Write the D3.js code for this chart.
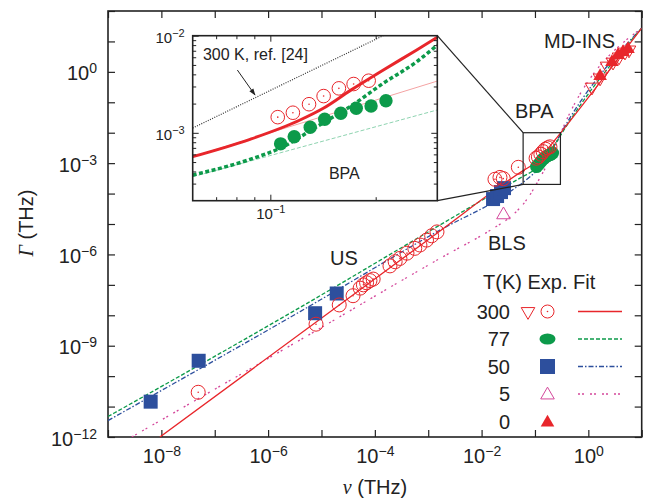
<!DOCTYPE html>
<html>
<head>
<meta charset="utf-8">
<script src="https://cdn.jsdelivr.net/npm/d3@7"></script>
<style>
  body { margin: 0; background: #fff; }
  svg { display: block; font-family: "Liberation Sans", Arial, sans-serif; }
</style>
</head>
<body>
<div id="chart"></div>
<script>
// ---- data: [nu (THz), Gamma (THz)] ----
const exp300 = [
  [4.9e-8, 2.95e-11], [7.9e-6, 5.1e-9], [2.15e-5, 2.19e-8], [3.9e-5, 4.4e-8],
  [5.3e-5, 7.8e-8], [6.1e-5, 1.0e-7], [7.0e-5, 1.17e-7], [8.1e-5, 1.38e-7], [9.3e-5, 1.55e-7],
  [1.92e-4, 4.2e-7], [2.4e-4, 5.75e-7], [2.95e-4, 7.4e-7], [4.0e-4, 1.1e-6], [5.6e-4, 1.58e-6],
  [7.0e-4, 2.04e-6], [9.3e-4, 2.95e-6], [1.16e-3, 4.1e-6], [1.46e-3, 5.5e-6],
  [0.0178, 2.95e-4], [0.0221, 3.4e-4], [0.0255, 3.1e-4], [0.0488, 7.3e-4]
];
const bpa300 = [[0.105, 1.45e-3], [0.116, 1.61e-3], [0.129, 1.97e-3], [0.142, 2.39e-3],
  [0.157, 2.87e-3], [0.173, 3.18e-3], [0.191, 3.44e-3]];
const bpa77 = [[0.107, 7.7e-4], [0.117, 9.1e-4], [0.130, 1.14e-3], [0.143, 1.38e-3],
  [0.159, 1.59e-3], [0.176, 1.79e-3], [0.194, 1.89e-3], [0.214, 2.14e-3]];
const exp50 = [[6.3e-9, 1.45e-11], [5.0e-8, 3.2e-10], [7.6e-6, 1.17e-8], [1.93e-5, 5.2e-8],
  [0.0164, 6.6e-5], [0.0195, 8.3e-5], [0.0231, 1.12e-4], [0.0263, 1.51e-4]];
const exp5 = [[0.0257, 2.0e-5]];
const mdins300 = [[1.17, 0.316], [1.66, 0.63], [2.24, 1.55], [2.90, 2.09], [3.76, 3.09], [4.86, 4.47], [5.78, 5.25]];
const mdins0 = [[1.66, 0.72], [2.77, 2.09], [3.6, 3.55], [4.47, 4.47], [5.53, 5.62]];

// fit curves
const fit300 = [[9.4e-9, 1e-12], [1.46e-3, 5.0e-6], [0.06, 5.68e-4], [0.0875, 8.57e-4], [0.1216, 1.355e-3],
  [0.1417, 1.79e-3], [0.169, 2.72e-3], [0.2104, 4.44e-3], [0.262, 7.13e-3], [0.30, 9.63e-3], [10, 27.5]];
const fit77 = [[1e-9, 4.7e-12], [3.98e-6, 1.82e-8], [1.66e-3, 9.3e-6], [0.06, 3.67e-4], [0.0875, 5.33e-4],
  [0.1089, 7.19e-4], [0.1357, 1.156e-3], [0.169, 1.86e-3], [0.2104, 3.24e-3], [0.262, 5.4e-3], [0.30, 8.0e-3], [10, 27.5]];
const fit50 = [[1e-9, 3.47e-12], [3.98e-6, 1.32e-8], [1.66e-3, 6.3e-6], [0.034, 1.15e-4], [0.0807, 3.58e-4],
  [0.166, 1.27e-3], [0.294, 8.4e-3], [10, 27.5]];
const fit5 = [[2.78e-9, 1e-12], [3.98e-6, 1.55e-9], [1.66e-3, 7.4e-7], [0.01656, 7.2e-6], [0.034, 1.66e-5],
  [0.07, 6.3e-5], [0.124, 3.3e-4], [0.221, 2.4e-3], [0.294, 8.4e-3], [10, 27.5]];
const lin300 = [[0.06, 5.68e-4], [0.30, 3.41e-3]];
const lin77 = [[0.06, 3.53e-4], [0.30, 1.72e-3]];
const ref24 = [[0.06, 1.12e-3], [0.21, 1.0e-2]];

const xTickExp = d3.range(-9, 2);
const xLabelExp = [-8, -6, -4, -2, 0];
const yTickExp = d3.range(-12, 3);
const yLabelExp = [-12, -9, -6, -3, 0];
const insetXTicks = [0.07, 0.08, 0.09, 0.1, 0.2];
const insetYTicks = [3e-4, 4e-4, 5e-4, 6e-4, 7e-4, 8e-4, 9e-4, 1e-3, 2e-3, 3e-3, 4e-3, 5e-3, 6e-3, 7e-3, 8e-3, 9e-3];
const legendT = ["300", "77", "50", "5", "0"];

const red = '#e8262b', green = '#0c9a4a', blue = '#2d4f9d', pink = '#d4479b', ink = '#222';

const W = 648, H = 499;
const m = {l: 108, r: 641.7, t: 11, b: 437};

const svg = d3.select('#chart').append('svg').attr('width', W).attr('height', H);

const x = d3.scaleLog().domain([1e-9, 1e1]).range([m.l, m.r]);
const y = d3.scaleLog().domain([1e-12, 1e2]).range([m.b, m.t]);

const sup = (sel, e, supSize, raise) => {
  sel.text(null);
  sel.append('tspan').text('10');
  sel.append('tspan').attr('dy', -raise).attr('font-size', supSize).text(e < 0 ? '\u2212' + (-e) : e);
};

svg.append('defs').append('clipPath').attr('id', 'clipMain')
  .append('rect').attr('x', m.l).attr('y', m.t).attr('width', m.r - m.l).attr('height', m.b - m.t);

// axes
const pow = e => Math.pow(10, e);
const gx = svg.append('g').attr('transform', `translate(0,${m.b})`)
  .call(d3.axisBottom(x).tickValues(xTickExp.map(pow)).tickSizeInner(-7).tickSizeOuter(0).tickPadding(12).tickFormat(''));
gx.selectAll('.tick text').each(function (d) {
  const e = Math.round(Math.log10(d));
  if (xLabelExp.includes(e)) sup(d3.select(this), e, 14, 7);
});
svg.append('g').attr('transform', `translate(0,${m.t})`)
  .call(d3.axisTop(x).tickValues(xTickExp.map(pow)).tickSizeInner(-7).tickSizeOuter(0).tickFormat(''));
const gy = svg.append('g').attr('transform', `translate(${m.l},0)`)
  .call(d3.axisLeft(y).tickValues(yTickExp.map(pow)).tickSizeInner(-7).tickSizeOuter(0).tickPadding(11).tickFormat(''));
gy.selectAll('.tick text').each(function (d) {
  const e = Math.round(Math.log10(d));
  if (yLabelExp.includes(e)) sup(d3.select(this), e, 14, 7);
}).attr('dy', '0.4em');
svg.append('g').attr('transform', `translate(${m.r},0)`)
  .call(d3.axisRight(y).tickValues(yTickExp.map(pow)).tickSizeInner(-7).tickSizeOuter(0).tickFormat(''));
svg.selectAll('.domain').remove();
svg.selectAll('.tick line').attr('stroke', ink).attr('stroke-width', 1.2);
svg.selectAll('.tick text').attr('fill', ink).attr('font-size', 20).attr('font-family', '"Liberation Sans", Arial, sans-serif');

svg.append('rect').attr('x', m.l).attr('y', m.t).attr('width', m.r - m.l).attr('height', m.b - m.t)
  .attr('fill', 'none').attr('stroke', ink).attr('stroke-width', 1.6);

// axis titles
svg.append('text').attr('x', 375).attr('y', 494).attr('text-anchor', 'middle').attr('font-size', 20).attr('fill', ink)
  .call(t => {
    t.append('tspan').attr('font-family', '"Liberation Serif", serif').attr('font-style', 'italic').text('\u03bd');
    t.append('tspan').text(' (THz)');
  });
svg.append('text').attr('transform', 'translate(33,223) rotate(-90)').attr('text-anchor', 'middle').attr('font-size', 20).attr('fill', ink)
  .call(t => {
    t.append('tspan').attr('font-family', '"Liberation Serif", serif').attr('font-style', 'italic').text('\u0393');
    t.append('tspan').text(' (THz)');
  });

// fit lines in main plot
const line = (sx, sy) => d3.line().x(d => sx(d[0])).y(d => sy(d[1])).curve(d3.curveMonotoneX);
const main = svg.append('g').attr('clip-path', 'url(#clipMain)');
const fits = [
  {d: fit5, c: pink, dash: '2,2,2,6'},
  {d: fit50, c: blue, dash: '5,2,1.5,2'},
  {d: fit77, c: green, dash: '4,2'},
  {d: fit300, c: red, dash: null}
];
fits.forEach(f => {
  main.append('path').datum(f.d).attr('d', line(x, y)).attr('fill', 'none')
    .attr('stroke', f.c).attr('stroke-width', 1.3).attr('stroke-dasharray', f.dash);
});

// markers
const triUp = d3.symbol(d3.symbolTriangle, 80);
const circDot = (g, data, sx, sy, r) => {
  g.selectAll(null).data(data).enter().append('circle')
    .attr('cx', d => sx(d[0])).attr('cy', d => sy(d[1])).attr('r', r)
    .attr('fill', 'none').attr('stroke', red).attr('stroke-width', 1);
  g.selectAll(null).data(data).enter().append('circle')
    .attr('cx', d => sx(d[0])).attr('cy', d => sy(d[1])).attr('r', 0.8).attr('fill', red);
};
main.selectAll('sq').data(exp50).enter().append('rect')
  .attr('x', d => x(d[0]) - 7).attr('y', d => y(d[1]) - 7).attr('width', 14).attr('height', 14).attr('fill', blue);
main.selectAll('gc').data(bpa77).enter().append('circle')
  .attr('cx', d => x(d[0])).attr('cy', d => y(d[1])).attr('r', 6.5).attr('fill', green);
circDot(main, exp300.concat(bpa300), x, y, 7);
main.selectAll('t5').data(exp5).enter().append('path').attr('d', triUp)
  .attr('transform', d => `translate(${x(d[0])},${y(d[1])})`)
  .attr('fill', 'none').attr('stroke', pink).attr('stroke-width', 1);
main.selectAll('t300').data(mdins300).enter().append('path').attr('d', triUp)
  .attr('transform', d => `translate(${x(d[0])},${y(d[1])}) rotate(180)`)
  .attr('fill', 'none').attr('stroke', red).attr('stroke-width', 1);
main.selectAll('t0').data(mdins0).enter().append('path').attr('d', triUp)
  .attr('transform', d => `translate(${x(d[0])},${y(d[1])})`)
  .attr('fill', red);

// text labels
const label = (txt, px, py, size, anchor) => svg.append('text').attr('x', px).attr('y', py)
  .attr('font-size', size).attr('fill', ink).attr('text-anchor', anchor || 'start').text(txt);
label('US', 344, 265, 20, 'middle');
label('BLS', 488, 250, 20);
label('BPA', 515, 118, 20);
label('MD-INS', 544, 48, 20);

// ---- inset ----
const ix = d3.scaleLog().domain([0.06, 0.3]).range([192.7, 437.3]);
const iy = d3.scaleLog().domain([2e-4, 1e-2]).range([200.7, 35.7]);
const [ix0, ix1] = ix.range(), [iy0, iy1] = iy.range();

// zoom box and connectors
svg.append('rect').attr('x', x(0.06)).attr('y', y(1e-2)).attr('width', x(0.3) - x(0.06)).attr('height', y(2e-4) - y(1e-2))
  .attr('fill', 'none').attr('stroke', ink).attr('stroke-width', 1.2);
svg.append('line').attr('x1', ix1).attr('y1', iy1).attr('x2', x(0.06)).attr('y2', y(1e-2)).attr('stroke', ink).attr('stroke-width', 1.2);
svg.append('line').attr('x1', ix1).attr('y1', iy0).attr('x2', x(0.06)).attr('y2', y(2e-4)).attr('stroke', ink).attr('stroke-width', 1.2);

svg.select('defs').append('clipPath').attr('id', 'clipInset')
  .append('rect').attr('x', ix0).attr('y', iy1).attr('width', ix1 - ix0).attr('height', iy0 - iy1);
svg.append('rect').attr('x', ix0).attr('y', iy1).attr('width', ix1 - ix0).attr('height', iy0 - iy1).attr('fill', '#fff');

const ins = svg.append('g').attr('clip-path', 'url(#clipInset)');
ins.append('path').datum(ref24).attr('d', line(ix, iy)).attr('fill', 'none').attr('stroke', '#333')
  .attr('stroke-width', 1.2).attr('stroke-dasharray', '1,1.4');
ins.append('path').datum(lin77).attr('d', line(ix, iy)).attr('fill', 'none').attr('stroke', '#8ed3b0')
  .attr('stroke-width', 1).attr('stroke-dasharray', '4,2');
ins.append('path').datum(lin300).attr('d', line(ix, iy)).attr('fill', 'none').attr('stroke', '#f4a3a3').attr('stroke-width', 1);
ins.append('path').datum(fit77.filter(d => d[0] >= 0.06 && d[0] <= 0.3)).attr('d', line(ix, iy)).attr('fill', 'none')
  .attr('stroke', green).attr('stroke-width', 3.5).attr('stroke-dasharray', '4,2.5');
ins.append('path').datum(fit300.filter(d => d[0] >= 0.06 && d[0] <= 0.3)).attr('d', line(ix, iy)).attr('fill', 'none')
  .attr('stroke', red).attr('stroke-width', 3);
ins.selectAll('ig').data(bpa77).enter().append('circle')
  .attr('cx', d => ix(d[0])).attr('cy', d => iy(d[1])).attr('r', 6.7).attr('fill', green);
circDot(ins, bpa300, ix, iy, 6.8);

// inset axes
const tickLen = d => (d === 0.1 || d === 1e-3 || d === 1e-2) ? -6 : -3.5;
const insAxis = (axis, tr, ticks, labelled) => {
  const g = svg.append('g').attr('transform', tr).call(axis.tickValues(ticks).tickSizeOuter(0).tickSizeInner(-6).tickPadding(8).tickFormat(''));
  g.selectAll('.tick line').each(function (d) {
    const l = d3.select(this);
    if (l.attr('x2') !== null && +l.attr('x2') !== 0) l.attr('x2', -Math.sign(+l.attr('x2')) * tickLen(d));
    if (l.attr('y2') !== null && +l.attr('y2') !== 0) l.attr('y2', -Math.sign(+l.attr('y2')) * tickLen(d));
  }).attr('stroke', ink).attr('stroke-width', 1);
  g.select('.domain').remove();
  if (labelled) g.selectAll('.tick text').each(function (d) {
    if (labelled.includes(d)) sup(d3.select(this), Math.round(Math.log10(d)), 11, 6);
  }).attr('font-size', 15).attr('fill', ink).attr('font-family', '"Liberation Sans", Arial, sans-serif');
  return g;
};
insAxis(d3.axisBottom(ix), `translate(0,${iy0})`, insetXTicks, [0.1]);
insAxis(d3.axisTop(ix), `translate(0,${iy1})`, insetXTicks, null);
insAxis(d3.axisLeft(iy), `translate(${ix0},0)`, insetYTicks.concat([1e-2]), [1e-3, 1e-2]).selectAll('.tick text').attr('dy', '0.45em');
insAxis(d3.axisRight(iy), `translate(${ix1},0)`, insetYTicks, null);
svg.append('rect').attr('x', ix0).attr('y', iy1).attr('width', ix1 - ix0).attr('height', iy0 - iy1)
  .attr('fill', 'none').attr('stroke', ink).attr('stroke-width', 1.6);

label('300 K, ref. [24]', ix(0.0642), iy(5.6e-3), 16);
label('BPA', ix(0.147), iy(3.35e-4), 16);
svg.select('defs').append('marker').attr('id', 'arr').attr('viewBox', '0 0 10 10').attr('refX', 9).attr('refY', 5)
  .attr('markerWidth', 9).attr('markerHeight', 7).attr('orient', 'auto-start-reverse')
  .append('path').attr('d', 'M0,1.5L10,5L0,8.5Z').attr('fill', ink);
svg.append('line').attr('x1', ix(0.0805)).attr('y1', iy(4.43e-3)).attr('x2', ix(0.0904)).attr('y2', iy(2.45e-3))
  .attr('stroke', ink).attr('stroke-width', 1).attr('marker-end', 'url(#arr)');

// ---- legend ----
const lg = svg.append('g');
lg.append('rect').attr('x', 522).attr('y', 303).attr('width', 100).attr('height', 123).attr('fill', '#fff');
label('T(K) Exp. Fit', 483, 289, 20);
const rowY = i => 311.5 + i * 27.5;
legendT.forEach((t, i) => label(t, 510, rowY(i) + 7, 20, 'end'));
lg.append('path').attr('d', triUp).attr('transform', `translate(528,${rowY(0)}) rotate(180)`)
  .attr('fill', 'none').attr('stroke', red).attr('stroke-width', 1);
circDot(lg, [[547.5, rowY(0)]], d => d, d => d, 6.5);
lg.append('ellipse').attr('cx', 547.5).attr('cy', rowY(1)).attr('rx', 8).attr('ry', 5.5).attr('fill', green);
lg.append('rect').attr('x', 540).attr('y', rowY(2) - 7.5).attr('width', 15).attr('height', 15).attr('fill', blue);
lg.append('path').attr('d', triUp).attr('transform', `translate(547.5,${rowY(3) + 1})`)
  .attr('fill', 'none').attr('stroke', pink).attr('stroke-width', 1);
lg.append('path').attr('d', triUp).attr('transform', `translate(547.5,${rowY(4) + 1})`).attr('fill', red);
fits.slice().reverse().forEach((f, i) => {
  lg.append('line').attr('x1', 578).attr('x2', 622).attr('y1', rowY(i)).attr('y2', rowY(i))
    .attr('stroke', f.c).attr('stroke-width', 1.3).attr('stroke-dasharray', f.dash);
});
</script>
</body>
</html>
